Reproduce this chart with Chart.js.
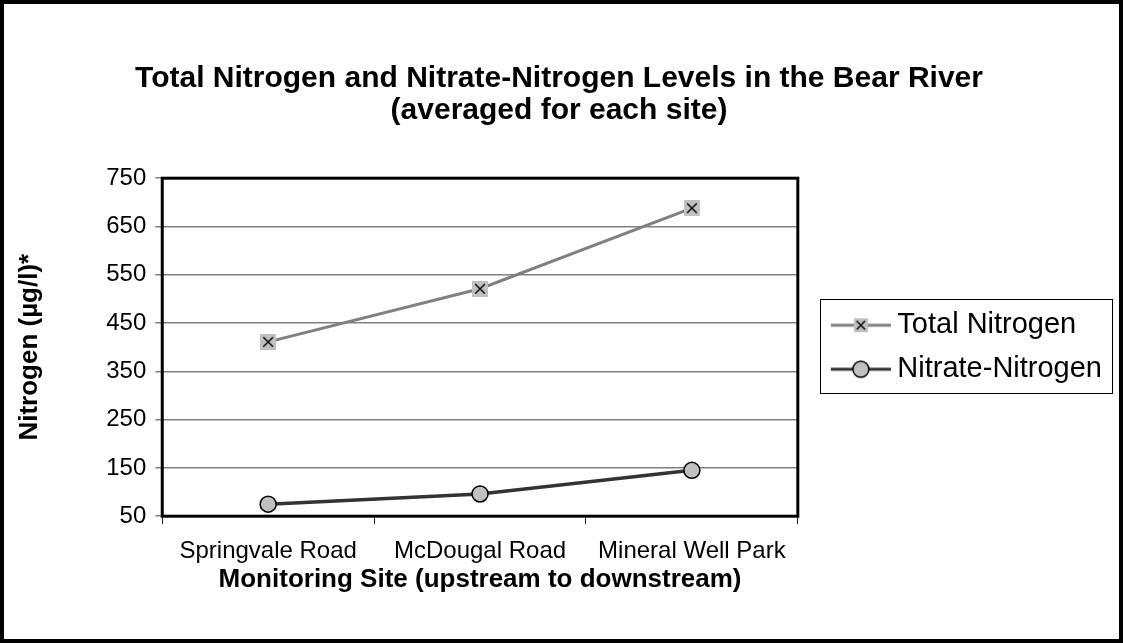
<!DOCTYPE html>
<html lang="en">
<head>
<meta charset="UTF-8" />
<title>Bear River Nitrogen</title>
<script src="https://cdn.jsdelivr.net/npm/chart.js"></script>
<style>
  html, body { margin: 0; padding: 0; background: #fff; }
  #wrap { width: 1123px; height: 643px; }
</style>
</head>
<body>
<div id="wrap"><canvas id="nitroChart" width="1123" height="643"></canvas></div>
<script>
  const sites = ['Springvale Road', 'McDougal Road', 'Mineral Well Park'];
  const totalNitrogen = [411, 521, 688];
  const nitrateNitrogen = [75, 96, 145];
  const yTicks = [50, 150, 250, 350, 450, 550, 650, 750];

  const FONT = 'Arial, "Liberation Sans", sans-serif';
  const TOTAL_LINE = '#808080';
  const NITRATE_LINE = '#333333';
  const MARKER_FILL = '#c0c0c0';

  // grey square with a black X, used for the Total Nitrogen points
  function crossBox(ctx, cx, cy, size) {
    ctx.fillStyle = MARKER_FILL;
    ctx.fillRect(cx - size / 2, cy - size / 2, size, size);
    const a = size * 0.3;
    ctx.strokeStyle = '#000';
    ctx.lineWidth = 1.4;
    ctx.beginPath();
    ctx.moveTo(cx - a, cy - a); ctx.lineTo(cx + a, cy + a);
    ctx.moveTo(cx + a, cy - a); ctx.lineTo(cx - a, cy + a);
    ctx.stroke();
  }

  function makeCrossMarker() {
    const c = document.createElement('canvas');
    c.width = 16; c.height = 16;
    crossBox(c.getContext('2d'), 8, 8, 16);
    return c;
  }

  // legend icon: line with the marker in the middle (left part of canvas left empty)
  function makeLegendIcon(kind) {
    const c = document.createElement('canvas');
    c.width = 86; c.height = 24;
    const ctx = c.getContext('2d');
    ctx.lineWidth = 3;
    ctx.strokeStyle = kind === 'total' ? TOTAL_LINE : NITRATE_LINE;
    ctx.beginPath(); ctx.moveTo(26, 12); ctx.lineTo(86, 12); ctx.stroke();
    if (kind === 'total') {
      crossBox(ctx, 56, 12, 14);
    } else {
      ctx.beginPath();
      ctx.arc(56, 12, 8, 0, Math.PI * 2);
      ctx.fillStyle = MARKER_FILL; ctx.fill();
      ctx.lineWidth = 1.5; ctx.strokeStyle = '#000'; ctx.stroke();
    }
    return c;
  }

  const legendIcons = [makeLegendIcon('total'), makeLegendIcon('nitrate')];

  const borders = {
    id: 'borders',
    afterDraw(chart) {
      const ctx = chart.ctx;
      const a = chart.chartArea;
      ctx.save();
      ctx.strokeStyle = '#000';
      ctx.lineWidth = 3;
      ctx.strokeRect(a.left, a.top, a.right - a.left, a.bottom - a.top);
      ctx.lineWidth = 4;
      ctx.strokeRect(2, 2, chart.width - 4, chart.height - 4);
      // legend frame
      const boxes = chart.legend.legendHitBoxes;
      if (boxes && boxes.length) {
        const x0 = Math.min(...boxes.map(b => b.left)) + 7;
        const y0 = Math.min(...boxes.map(b => b.top)) - 12;
        const x1 = Math.max(...boxes.map(b => b.left + b.width)) + 10;
        const y1 = Math.max(...boxes.map(b => b.top + b.height)) + 9;
        ctx.lineWidth = 1;
        ctx.strokeRect(Math.round(x0) + 0.5, Math.round(y0) + 0.5, Math.round(x1 - x0), Math.round(y1 - y0));
      }
      ctx.restore();
    }
  };

  new Chart(document.getElementById('nitroChart'), {
    type: 'line',
    data: {
      labels: sites,
      datasets: [
        {
          label: 'Total Nitrogen',
          data: totalNitrogen,
          borderColor: TOTAL_LINE,
          borderWidth: 3,
          pointStyle: makeCrossMarker(),
          fill: false,
          tension: 0
        },
        {
          label: 'Nitrate-Nitrogen',
          data: nitrateNitrogen,
          borderColor: NITRATE_LINE,
          borderWidth: 3.5,
          pointStyle: 'circle',
          pointRadius: 8,
          pointBackgroundColor: MARKER_FILL,
          pointBorderColor: '#000',
          pointBorderWidth: 1.5,
          fill: false,
          tension: 0
        }
      ]
    },
    options: {
      responsive: false,
      animation: false,
      devicePixelRatio: 1,
      layout: { padding: { top: 5, left: 6, right: 11, bottom: 50 } },
      plugins: {
        title: {
          display: true,
          text: ['Total Nitrogen and Nitrate-Nitrogen Levels in the Bear River', '(averaged for each site)'],
          color: '#000',
          font: { family: FONT, size: 30, weight: 'bold', lineHeight: 1.07 },
          padding: { top: 58, bottom: 51 }
        },
        legend: {
          position: 'right',
          fullSize: false,
          maxWidth: 400,
          labels: {
            usePointStyle: true,
            pointStyleWidth: 70,
            color: '#000',
            font: { family: FONT, size: 29 },
            padding: 15,
            generateLabels(chart) {
              return chart.data.datasets.map((ds, i) => ({
                text: ds.label,
                pointStyle: legendIcons[i],
                fillStyle: 'transparent',
                strokeStyle: 'transparent',
                lineWidth: 0,
                datasetIndex: i
              }));
            }
          }
        },
        tooltip: { enabled: false }
      },
      scales: {
        x: {
          offset: true,
          border: { display: false },
          grid: { offset: true, drawOnChartArea: false, tickLength: 8, color: '#222', lineWidth: 1 },
          ticks: { color: '#000', font: { family: FONT, size: 24 }, padding: 13, maxRotation: 0 },
          title: {
            display: true,
            text: 'Monitoring Site (upstream to downstream)',
            color: '#000',
            font: { family: FONT, size: 26, weight: 'bold', lineHeight: 1 },
            padding: { top: -12, bottom: 0 }
          }
        },
        y: {
          min: 50,
          max: 750,
          border: { display: false },
          afterBuildTicks(scale) { scale.ticks = yTicks.map(v => ({ value: v })); },
          grid: { color: '#808080', lineWidth: 1.5, tickLength: 7, tickColor: '#808080' },
          ticks: { color: '#000', font: { family: FONT, size: 24 }, padding: 9 },
          title: {
            display: true,
            text: 'Nitrogen (µg/l)*',
            color: '#000',
            font: { family: FONT, size: 26, weight: 'bold', lineHeight: 1.2 },
            padding: { top: 8, bottom: 52 }
          }
        }
      }
    },
    plugins: [borders]
  });
</script>
</body>
</html>
